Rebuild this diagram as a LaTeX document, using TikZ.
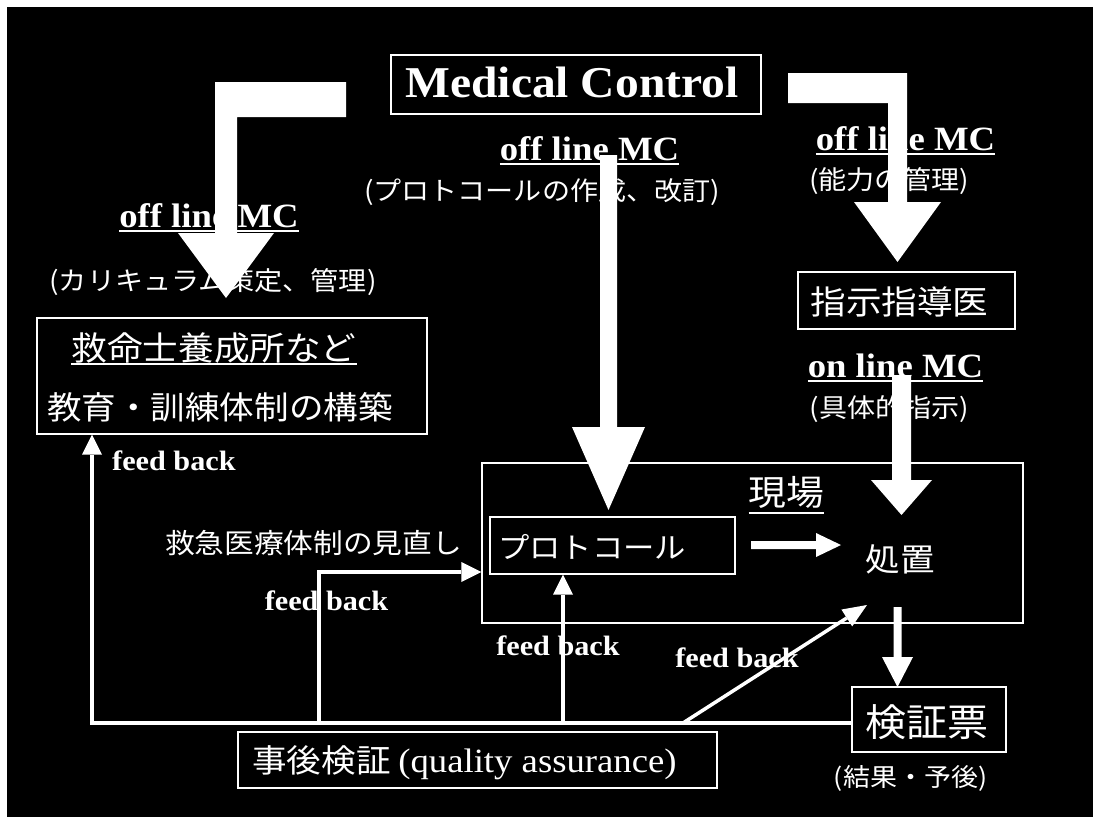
\documentclass[tikz,border=0pt]{standalone}
\usepackage{fontspec}
\setmainfont{Liberation Serif}[FakeStretch=1.08]
\newfontfamily\jp{Noto Sans CJK JP}[FakeStretch=1.08]
\usetikzlibrary{arrows.meta}
\newsavebox\ulbox
\newcommand\ulx[2]{\sbox\ulbox{#2}\rlap{\rule[-#1]{\wd\ulbox}{2pt}}\usebox\ulbox}
\begin{document}
\begin{tikzpicture}[x=1pt,y=-1pt,
  frame/.style={draw=white, line width=1.3pt, inner sep=0pt},
  txt/.style={text=white, inner sep=0pt, anchor=base},
  jpf/.style={font=\jp\fontsize{#1pt}{#1pt}\selectfont},
  lat/.style={font=\fontsize{#1pt}{#1pt}\selectfont\bfseries},
  blk/.style={fill=white},
  fb/.style={draw=white, line width=3.5pt, line join=miter},
  fbtip/.style={-{Triangle[length=20pt,width=20pt,line width=0pt]}}
]
\useasboundingbox (0,0) rectangle (1093,817);
\fill[white] (0,0) rectangle (1093,817);
\fill[black] (7,7) rectangle (1110,830);

% boxes
\node[frame, minimum width=370pt, minimum height=59pt] (mc) at (576,84.5) {};
\node[frame, minimum width=217pt, minimum height=57pt] (shiji) at (906.5,300.5) {};
\node[frame, minimum width=390pt, minimum height=116pt] (edu) at (232,376) {};
\node[frame, minimum width=541pt, minimum height=160pt] (genba) at (752.5,543) {};
\node[frame, minimum width=245pt, minimum height=57pt] (proto) at (612.5,545.5) {};
\node[frame, minimum width=154pt, minimum height=65pt] (kensho) at (929,719.5) {};
\node[frame, minimum width=479pt, minimum height=56pt] (jigo) at (477.5,760) {};

% block arrows
\fill[blk] (346,82) -- (215,82) -- (215,233) -- (178,233) -- (226,298) -- (274,233) -- (237,233) -- (237,117) -- (346,117) -- cycle;
\fill[blk] (600,155) -- (617,155) -- (617,427) -- (645,427) -- (608.5,510) -- (572,427) -- (600,427) -- cycle;
\fill[blk] (788,73) -- (907,73) -- (907,202) -- (941,202) -- (897.5,262) -- (854,202) -- (888,202) -- (888,103) -- (788,103) -- cycle;
\fill[blk] (892,375) -- (911,375) -- (911,480) -- (932,480) -- (901.5,515) -- (871,480) -- (892,480) -- cycle;
\fill[blk] (893.5,607) -- (901.5,607) -- (901.5,657) -- (913,657) -- (897.5,687) -- (882,657) -- (893.5,657) -- cycle;
\fill[blk] (751,541) -- (816,541) -- (816,533) -- (841,545) -- (816,557) -- (816,549) -- (751,549) -- cycle;

% feedback connectors
\coordinate (tL) at (92,723);
\coordinate (t2) at (319,723);
\coordinate (p2) at (319,572);
\coordinate (t3) at (563,723);
\coordinate (t4) at (683,723);
\coordinate (fbend) at (867,605);
\draw[fb, fbtip] (kensho.west |- tL) -- (tL) -- (tL |- edu.south);
\draw[fb, fbtip] (t2) -- (p2) -- (genba.west |- p2);
\draw[fb, fbtip] (t3) -- (t3 |- proto.south);
\draw[fb, -{Triangle[length=24pt,width=20pt,line width=0pt]}] (t4) -- (fbend);

% texts
\node[txt, lat=44] (mct) at (572,97) {Medical Control};
\node[txt, lat=34] (offL) at (209,227) {\ulx{5pt}{off line MC}};
\node[txt, lat=34] (offM) at (589.5,160) {\ulx{5pt}{off line MC}};
\node[txt, lat=34] (offR) at (905.5,150) {\ulx{5pt}{off line MC}};
\node[txt, lat=34] (onl) at (895.5,377) {\ulx{5pt}{on line MC}};

\node[txt, jpf=26] (curr) at (213,290.7) {(カリキュラム策定、管理)};
\node[txt, jpf=26] (prot) at (542,200.7) {(プロトコールの作成、改訂)};
\node[txt, jpf=26] (nour) at (889,189.7) {(能力の管理)};
\node[txt, jpf=33] (shijit) at (899.5,314.5) {指示指導医};
\node[txt, jpf=26] (gutai) at (889.5,417.7) {(具体的指示)};
\node[txt, jpf=33] (edu1) at (214,360.5) {\ulx{4.5pt}{救命士養成所など}};
\node[txt, jpf=32] (edu2) at (220,419) {教育・訓練体制の構築};
\node[txt, jpf=27.5] (minaoshi) at (313.5,553.5) {救急医療体制の見直し};
\node[txt, jpf=35] (genbat) at (786.5,505) {\ulx{8.5pt}{現場}};
\node[txt, jpf=29] (protot) at (592,558) {プロトコール};
\node[txt, jpf=32] (shochi) at (900,571) {処置};
\node[txt, jpf=38] (kenshot) at (927,736.5) {検証票};
\node[txt, jpf=25] (kekka) at (910.5,786) {(結果・予後)};
\node[txt, jpf=32] (jigot) at (464.5,772) {事後検証 {\rmfamily\fontsize{34pt}{34pt}\selectfont (quality assurance)}};

\node[txt, lat=28, anchor=base west] (fb1) at (112,470) {feed back};
\node[txt, lat=28] (fb2) at (326.5,610) {feed back};
\node[txt, lat=28] (fb3) at (558,655) {feed back};
\node[txt, lat=28] (fb4) at (737,667) {feed back};
\end{tikzpicture}
\end{document}
